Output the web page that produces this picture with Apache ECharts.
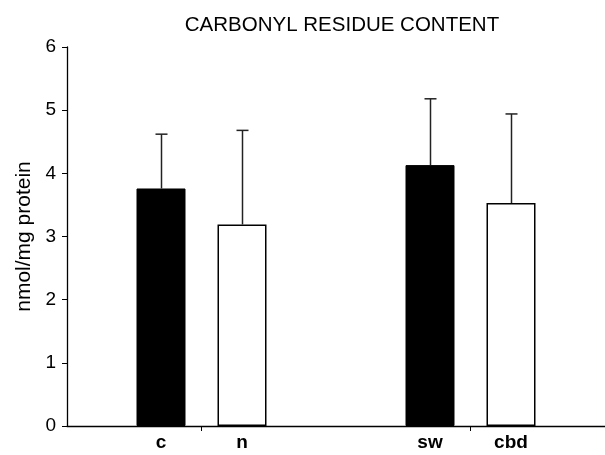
<!DOCTYPE html>
<html>
<head>
<meta charset="utf-8">
<script src="https://cdn.jsdelivr.net/npm/echarts@6/dist/echarts.min.js"></script>
<style>
  html, body { margin: 0; padding: 0; background: #fff; }
  #chart { width: 605px; height: 455px; }
</style>
</head>
<body>
<div id="chart"></div>
<script>
// Data
var groups = ['g1', 'g2'];
var blackLabels = ['c', 'sw'];
var whiteLabels = ['n', 'cbd'];
var blackValues = [3.76, 4.13];
var whiteValues = [3.19, 3.53];
var blackErrTop = [4.62, 5.18];
var whiteErrTop = [4.68, 4.94];
var yTicks = [0, 1, 2, 3, 4, 5, 6];

var BAR_W = 49;
var BAR_GAP = 32;
var OFFSET = (BAR_W + BAR_GAP) / 2;
var FONT = '"Liberation Sans", Arial, Helvetica, sans-serif';

var errData = [];
for (var i = 0; i < groups.length; i++) {
  errData.push([i, -1, blackValues[i], blackErrTop[i]]);
  errData.push([i, 1, whiteValues[i], whiteErrTop[i]]);
}

var chart = echarts.init(document.getElementById('chart'), null, { renderer: 'canvas' });
chart.setOption({
  animation: false,
  backgroundColor: '#fff',
  title: {
    text: 'CARBONYL RESIDUE CONTENT',
    left: 337, top: 10, textAlign: 'center',
    textStyle: { fontFamily: FONT, fontSize: 20.5, fontWeight: 'normal', color: '#000' }
  },
  grid: { left: 67, right: 0, top: 47, bottom: 29, containLabel: false },
  xAxis: {
    type: 'category',
    data: groups,
    boundaryGap: true,
    axisLine: { lineStyle: { color: '#000', width: 1.3 } },
    axisTick: { show: true, alignWithLabel: true, length: 5, lineStyle: { color: '#000', width: 1 } },
    axisLabel: {
      margin: 7,
      formatter: function (v, idx) {
        return '{a|' + blackLabels[idx] + '}{b|' + whiteLabels[idx] + '}';
      },
      rich: {
        a: { width: BAR_W + BAR_GAP, align: 'center', fontFamily: FONT, fontSize: 19, fontWeight: 'bold', color: '#000' },
        b: { width: BAR_W + BAR_GAP, align: 'center', fontFamily: FONT, fontSize: 19, fontWeight: 'bold', color: '#000' }
      }
    },
    splitLine: { show: false }
  },
  yAxis: {
    type: 'value',
    min: yTicks[0], max: yTicks[yTicks.length - 1], interval: 1,
    name: 'nmol/mg protein',
    nameLocation: 'middle',
    nameGap: 32,
    nameRotate: 90,
    nameTextStyle: { fontFamily: FONT, fontSize: 21, color: '#000' },
    axisLine: { show: true, lineStyle: { color: '#000', width: 1.3 } },
    axisTick: { show: true, length: 5, lineStyle: { color: '#000', width: 1 } },
    axisLabel: { margin: 11, fontFamily: FONT, fontSize: 19, color: '#000' },
    splitLine: { show: false }
  },
  series: [
    {
      type: 'bar', data: blackValues, barWidth: BAR_W,
      barGap: (BAR_GAP / BAR_W * 100) + '%',
      itemStyle: { color: '#000', borderColor: '#000', borderWidth: 1 }
    },
    {
      type: 'bar', data: whiteValues, barWidth: BAR_W,
      barGap: (BAR_GAP / BAR_W * 100) + '%',
      itemStyle: { color: '#fff', borderColor: '#000', borderWidth: 1.5 }
    },
    {
      type: 'custom',
      data: errData,
      z: 10,
      renderItem: function (params, api) {
        var cat = api.value(0), side = api.value(1);
        var p0 = api.coord([cat, api.value(2)]);
        var p1 = api.coord([cat, api.value(3)]);
        var x = Math.round(p0[0] + side * OFFSET) + 0.5;
        return {
          type: 'group',
          children: [
            { type: 'line', shape: { x1: x, y1: p0[1], x2: x, y2: p1[1] },
              style: { stroke: '#222', lineWidth: 1.5 } },
            { type: 'line', shape: { x1: x - 6, y1: p1[1], x2: x + 6, y2: p1[1] },
              style: { stroke: '#222', lineWidth: 1.5 } }
          ]
        };
      }
    }
  ]
});
</script>
</body>
</html>
